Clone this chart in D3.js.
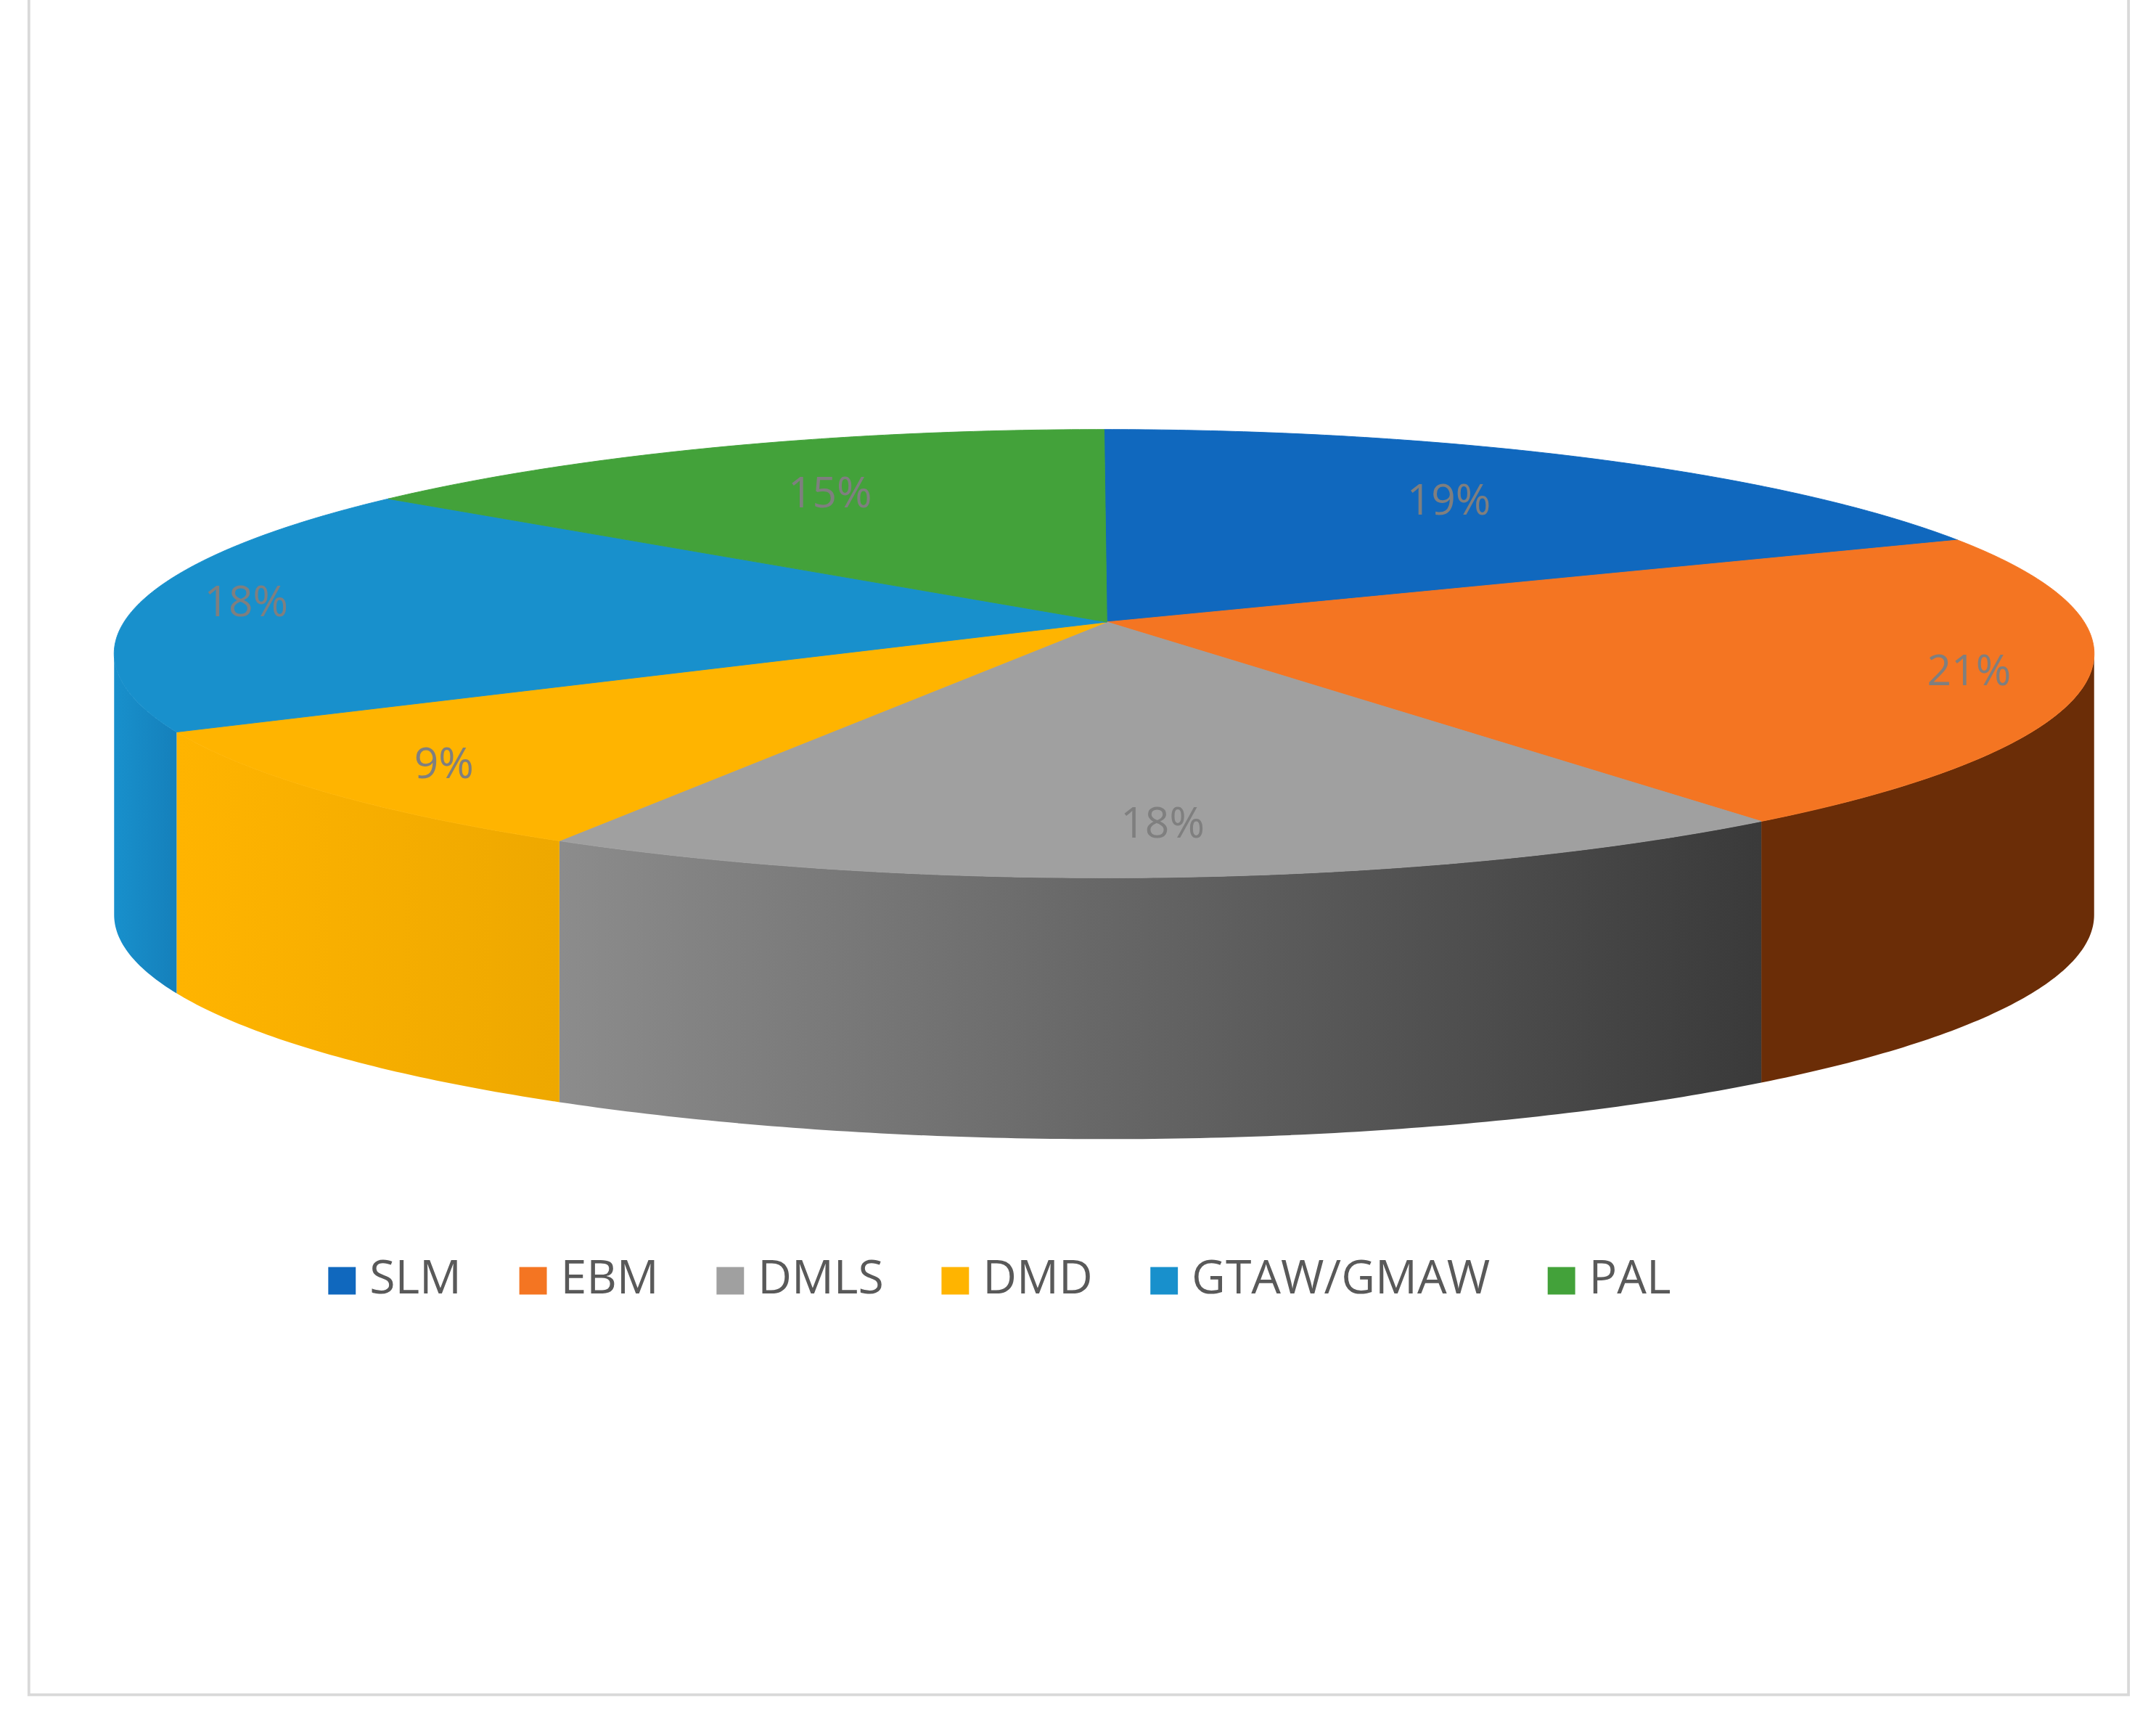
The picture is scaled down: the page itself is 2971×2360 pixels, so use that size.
<html>
<script src="https://d3js.org/d3.v7.min.js"></script>
<style>
  body { margin: 0; background: #fff; }
  text { font-family: "Open Sans", Calibri, sans-serif; }
</style>
<body>
<svg id="chart" width="2971" height="2360" viewBox="0 0 1568 1245"></svg>
<script>
// chart data
var categories = ["SLM", "EBM", "DMLS", "DMD", "GTAW/GMAW", "PAL"];
var shares = [19, 21, 18, 9, 18, 15];
var topColors = ["#1068be", "#f47522", "#a0a0a0", "#ffb400", "#1890cc", "#43a23a"];
var sideLeft = ["#0c4f90", "#6b2d07", "#8c8c8c", "#ffb400", "#1890cc", "#327a2b"];
var sideRight = ["#0c4f90", "#6b2d07", "#3a3a3a", "#eea800", "#1580bb", "#327a2b"];

var svg = d3.select("#chart");

svg.append("rect")
  .attr("x", 21).attr("y", -5).attr("width", 1527).attr("height", 1237)
  .attr("fill", "none").attr("stroke", "#d9d9d9").attr("stroke-width", 2);

// ellipse geometry of the tilted pie
var cx = 803, cy = 475, rx = 720, ry = 163, depth = 190;
var apex = [805, 452];

var total = d3.sum(shares);
var cum = [0];
shares.forEach(function(v, i) { cum.push(cum[i] + v); });
var angle = d3.scaleLinear().domain([0, total]).range([0, 2 * Math.PI]);

// perspective: the pie centre sits above the ellipse centre
function warp(t) { return t - 0.166 * Math.sin(t); }
function pt(t, dy) {
  var T = warp(t);
  return [cx + rx * Math.sin(T), cy - ry * Math.cos(T) + (dy || 0)];
}
function arcPts(t1, t2, dy) {
  var n = Math.max(2, Math.ceil((t2 - t1) / 0.01));
  return d3.range(n + 1).map(function(k) { return pt(t1 + (t2 - t1) * k / n, dy); });
}
// inverse of warp for the visible-half limits
function unwarp(T) {
  var t = T;
  for (var k = 0; k < 20; k++) t = T + 0.166 * Math.sin(t);
  return t;
}

var defs = svg.append("defs");
var line = d3.line();

var lo = unwarp(Math.PI / 2), hi = unwarp(3 * Math.PI / 2);
categories.forEach(function(c, i) {
  var t1 = Math.max(angle(cum[i]), lo);
  var t2 = Math.min(angle(cum[i + 1]), hi);
  if (t2 <= t1) return;
  var top = arcPts(t1, t2, 0);
  var bot = arcPts(t1, t2, depth).reverse();
  var g = defs.append("linearGradient").attr("id", "side" + i)
    .attr("gradientUnits", "userSpaceOnUse")
    .attr("x1", pt(t2)[0]).attr("x2", pt(t1)[0]).attr("y1", 0).attr("y2", 0);
  g.append("stop").attr("offset", 0).attr("stop-color", sideLeft[i]);
  g.append("stop").attr("offset", 1).attr("stop-color", sideRight[i]);
  svg.append("path")
    .attr("d", line(top.concat(bot)) + "Z")
    .attr("fill", "url(#side" + i + ")");
});

// top faces
categories.forEach(function(c, i) {
  var pts = [apex].concat(arcPts(angle(cum[i]), angle(cum[i + 1]), 0));
  svg.append("path")
    .attr("d", line(pts) + "Z")
    .attr("fill", topColors[i])
    .attr("stroke", topColors[i]).attr("stroke-width", 0.5);
});

// data labels
var labelK = [0.72, 0.88, 0.8, 0.85, 0.89, 0.72];
categories.forEach(function(c, i) {
  var p = pt(angle((cum[i] + cum[i + 1]) / 2));
  var k = labelK[i];
  svg.append("text")
    .attr("x", apex[0] + k * (p[0] - apex[0]))
    .attr("y", apex[1] + k * (p[1] - apex[1]))
    .attr("text-anchor", "middle").attr("dominant-baseline", "middle")
    .attr("font-size", 31).attr("fill", "#7f7f7f")
    .text(shares[i] + "%");
});

// legend
var legend = svg.append("g");
var x = 232, ly = 931;
categories.forEach(function(c, i) {
  legend.append("rect").attr("x", x).attr("y", ly - 10).attr("width", 20).attr("height", 20)
    .attr("fill", topColors[i]);
  var t = legend.append("text").attr("x", x + 30).attr("y", ly)
    .attr("dominant-baseline", "middle").attr("font-size", 34).attr("fill", "#595959")
    .text(c);
  x += 30 + t.node().getComputedTextLength() + 42;
});
var bb = legend.node().getBBox();
legend.attr("transform", "translate(" + (727 - (bb.x + bb.width / 2)) + ",0)");
</script>
</body>
</html>
